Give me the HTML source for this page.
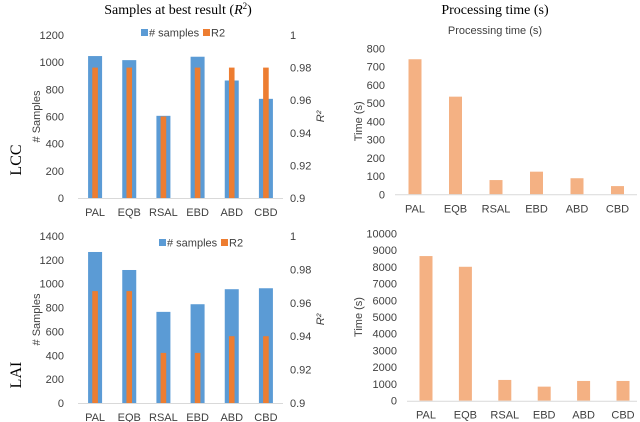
<!DOCTYPE html>
<html><head><meta charset="utf-8">
<style>
body{margin:0;background:#fff;}
svg{display:block;font-family:"Liberation Sans",sans-serif;}
.t{font-size:11px;fill:#404040;}
.serif{font-family:"Liberation Serif",serif;fill:#000;}
</style></head>
<body>
<svg id="c" width="640" height="422" viewBox="0 0 640 422">
<text class="serif" x="178" y="14" font-size="14" text-anchor="middle">Samples at best result (<tspan font-style="italic">R</tspan><tspan font-size="9" dy="-5">2</tspan><tspan dy="5">)</tspan></text>
<text class="serif" x="495" y="14" font-size="14" text-anchor="middle">Processing time (s)</text>
<text class="t" x="495" y="34" font-size="12" text-anchor="middle">Processing time (s)</text>
<text class="serif" font-size="16" transform="translate(21,160) rotate(-90)" text-anchor="middle">LCC</text>
<text class="serif" font-size="16" transform="translate(21,375) rotate(-90)" text-anchor="middle">LAI</text>
</svg>
<script>
const categories=["PAL","EQB","RSAL","EBD","ABD","CBD"];
const lccSamples=[1045,1015,605,1040,865,730];
const lccR2=[0.98,0.98,0.95,0.98,0.98,0.98];
const laiSamples=[1266,1115,764,828,954,962];
const laiR2=[0.967,0.967,0.93,0.93,0.94,0.94];
const lccTime=[740,535,78,124,88,45];
const laiTime=[8640,8000,1240,840,1180,1180];
const lccSampleTicks=[0,200,400,600,800,1000,1200];
const laiSampleTicks=[0,200,400,600,800,1000,1200,1400];
const r2Ticks=[0.9,0.92,0.94,0.96,0.98,1];
const lccTimeTicks=[0,100,200,300,400,500,600,700,800];
const laiTimeTicks=[0,1000,2000,3000,4000,5000,6000,7000,8000,9000,10000];

const svg=document.getElementById('c');
const NS="http://www.w3.org/2000/svg";
function mk(tag,attrs,txt){const e=document.createElementNS(NS,tag);for(const k in attrs)e.setAttribute(k,attrs[k]);if(txt!==undefined)e.textContent=txt;svg.appendChild(e);return e;}
function lin(d0,d1,r0,r1){return v=>r0+(v-d0)/(d1-d0)*(r1-r0);}

function samplesChart(p,samples,r2,ticks,legX,legY){
  const y=lin(0,ticks[ticks.length-1],p.y0,p.y1);
  const yr=lin(0.9,1,p.y0,p.y1);
  const step=(p.x1-p.x0)/categories.length;
  const xc=i=>p.x0+step*(i+0.5);
  ticks.forEach(t=>{const e=mk('text',{class:'t',x:64,y:y(t)+4,'text-anchor':'end'},t);
    
    });
  r2Ticks.forEach(t=>{const e=mk('text',{class:'t',x:290,y:yr(t)+4},String(t));
    
    });
  samples.forEach((v,i)=>{const e=mk('rect',{x:xc(i)-7,y:y(v),width:14,height:p.y0-y(v),fill:'#5b9bd5'});
    
    });
  r2.forEach((v,i)=>{const e=mk('rect',{x:xc(i)-2.8,y:yr(v),width:5.6,height:p.y0-yr(v),fill:'#ed7d31'});
    
    });
  let a=mk('line',{x1:p.x0,x2:p.x1,y1:p.y0+0.5,y2:p.y0+0.5,stroke:'#d9d9d9'});
  
  
  categories.forEach((c,i)=>{const e=mk('text',{class:'t',x:xc(i),y:p.y0+18,'text-anchor':'middle'},c);
    
    });
  let t=mk('text',{class:'t','font-size':'10',transform:`translate(40,${(p.y0+p.y1)/2}) rotate(-90)`,'text-anchor':'middle'},'# Samples');
  
  
  t=mk('text',{class:'t','font-size':'10','font-style':'italic',transform:`translate(324,${(p.y0+p.y1)/2}) rotate(-90)`,'text-anchor':'middle'},'R²');
  
  
  let s=mk('rect',{x:legX,y:legY-4,width:7,height:7,fill:'#5b9bd5'});
  
  
  s=mk('text',{class:'t',x:legX+8,y:legY+3.5},'# samples');
  
  
  s=mk('rect',{x:legX+62,y:legY-4,width:7,height:7,fill:'#ed7d31'});
  
  
  s=mk('text',{class:'t',x:legX+70,y:legY+3.5},'R2');
  
  
}
function timeChart(p,vals,ticks){
  const y=lin(0,ticks[ticks.length-1],p.y0,p.y1);
  const xc=i=>p.c0+p.step*i;
  ticks.forEach(t=>{const e=mk('text',{class:'t','font-size':'10.5',x:p.lx,y:y(t)+4,'text-anchor':'end'},t);
    
    });
  vals.forEach((v,i)=>{const e=mk('rect',{x:xc(i)-6.5,y:y(v),width:13,height:p.y0-y(v),fill:'#f4b183'});
    
    });
  let a=mk('line',{x1:p.x0,x2:p.x1,y1:p.y0+0.5,y2:p.y0+0.5,stroke:'#d9d9d9'});
  
  
  categories.forEach((c,i)=>{const e=mk('text',{class:'t',x:xc(i),y:p.y0+18,'text-anchor':'middle'},c);
    
    });
  let t=mk('text',{class:'t','font-size':'10',transform:`translate(${p.tx},${(p.y0+p.y1)/2}) rotate(-90)`,'text-anchor':'middle'},'Time (s)');
  
  
}
samplesChart({id:'lcc',x0:78,x1:283,y0:198,y1:35},lccSamples,lccR2,lccSampleTicks,141,33);
samplesChart({id:'lai',x0:78,x1:283,y0:403,y1:236},laiSamples,laiR2,laiSampleTicks,159,243);
timeChart({id:'lcc',x0:395,x1:637,y0:194.3,y1:48.3,c0:415,step:40.5,lx:385,tx:362},lccTime,lccTimeTicks);
timeChart({id:'lai',x0:407,x1:637,y0:400.7,y1:233.3,c0:426,step:39.4,lx:397,tx:362},laiTime,laiTimeTicks);
</script>
</body></html>
